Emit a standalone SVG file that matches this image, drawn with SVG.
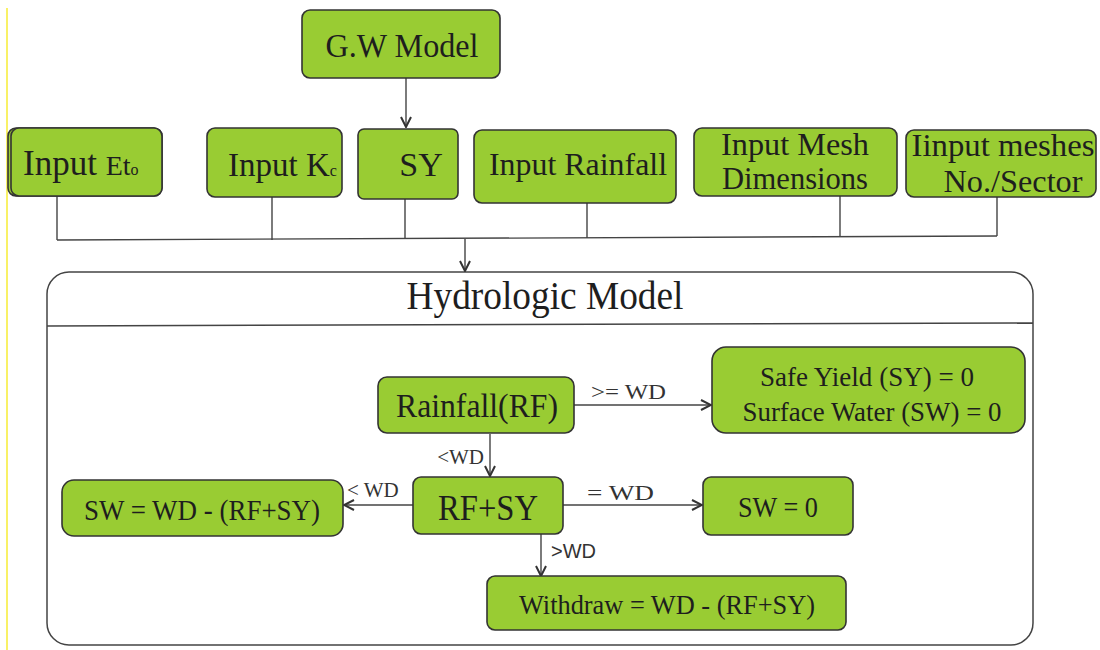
<svg xmlns="http://www.w3.org/2000/svg" width="1100" height="650" viewBox="0 0 1100 650">
  <style>
    .box { fill: #99cc33; stroke: #333333; stroke-width: 1.6; }
    .t { font-family: "Liberation Serif", "Times New Roman", serif; fill: #1e1e1e; }
    .lbl { font-family: "Liberation Serif", "Times New Roman", serif; fill: #333333; font-size: 21px; }
    .c { fill: none; stroke: #444444; stroke-width: 1.4; }
    .cont { fill: #ffffff; stroke: #444444; stroke-width: 1.5; }
  </style>
  <defs>
    <marker id="arr" viewBox="0 0 12 12" refX="11" refY="6" markerWidth="12" markerHeight="12" markerUnits="userSpaceOnUse" orient="auto">
      <path d="M1,1 L11,6 L1,11" fill="none" stroke="#333333" stroke-width="2"/>
    </marker>
  </defs>
  <rect width="1100" height="650" fill="#ffffff"/>
  <line x1="7" y1="8" x2="7" y2="650" stroke="#f5e800" stroke-width="1.2"/>

  <g id="hydrologic-model">
    <rect class="cont" x="47" y="272" width="986" height="373" rx="22"/>
    <line x1="47" y1="326" x2="1033" y2="323" stroke="#444444" stroke-width="1.5"/>
    <text class="t" x="545" y="309" font-size="39" text-anchor="middle" textLength="277" lengthAdjust="spacingAndGlyphs">Hydrologic Model</text>
  </g>

  <g id="connectors">
    <line class="c" x1="406" y1="78" x2="406" y2="127" marker-end="url(#arr)"/>
    <line class="c" x1="57" y1="196" x2="57" y2="240"/>
    <line class="c" x1="272" y1="197" x2="272" y2="240"/>
    <line class="c" x1="405" y1="199" x2="405" y2="239"/>
    <line class="c" x1="587" y1="203" x2="587" y2="238"/>
    <line class="c" x1="840" y1="196" x2="840" y2="237"/>
    <line class="c" x1="997" y1="197" x2="997" y2="236"/>
    <path class="c" d="M57,240 L997,236"/>
    <line class="c" x1="465" y1="239" x2="465" y2="271" marker-end="url(#arr)"/>

    <line class="c" x1="574" y1="405" x2="711" y2="405" marker-end="url(#arr)"/>
    <text class="lbl" x="591" y="399" textLength="75" lengthAdjust="spacingAndGlyphs">&gt;= WD</text>
    <line class="c" x1="490" y1="434" x2="490" y2="476" marker-end="url(#arr)"/>
    <text class="lbl" x="484" y="464" text-anchor="end">&lt;WD</text>
    <line class="c" x1="413" y1="505" x2="344" y2="505" marker-end="url(#arr)"/>
    <text class="lbl" x="347" y="497">&lt; WD</text>
    <line class="c" x1="563" y1="505" x2="702" y2="505" marker-end="url(#arr)"/>
    <text class="lbl" x="587" y="500" font-size="23" textLength="67" lengthAdjust="spacingAndGlyphs">= WD</text>
    <line class="c" x1="541" y1="534" x2="541" y2="576" marker-end="url(#arr)"/>
    <text x="551" y="558" font-family="Liberation Sans, Arial, sans-serif" font-size="20" fill="#333333">&gt;WD</text>
  </g>

  <g id="gw-model">
    <rect class="box" x="302" y="10" width="198" height="68" rx="8"/>
    <text class="t" x="402" y="57" font-size="34" text-anchor="middle" textLength="153" lengthAdjust="spacingAndGlyphs">G.W Model</text>
  </g>

  <g id="input-eto">
    <rect class="box" x="8" y="128" width="154" height="68" rx="8"/>
    <rect class="box" x="11" y="128" width="151" height="68" rx="8"/>
    <text class="t" x="23" y="175" font-size="35">Input <tspan font-size="28">Et</tspan><tspan font-size="16">o</tspan></text>
  </g>

  <g id="input-kc">
    <rect class="box" x="207" y="128" width="135" height="69" rx="8"/>
    <text class="t" x="228" y="176" font-size="33">Input K<tspan font-size="16">c</tspan></text>
  </g>

  <g id="sy">
    <rect class="box" x="358" y="129" width="100" height="70" rx="6"/>
    <text class="t" x="421" y="176" font-size="34" text-anchor="middle">SY</text>
  </g>

  <g id="input-rainfall">
    <rect class="box" x="474" y="130" width="202" height="73" rx="8"/>
    <text class="t" x="578" y="175" font-size="32" text-anchor="middle" textLength="178" lengthAdjust="spacingAndGlyphs">Input Rainfall</text>
  </g>

  <g id="input-mesh-dimensions">
    <rect class="box" x="694" y="128" width="203" height="68" rx="8"/>
    <text class="t" x="795" y="155" font-size="32" text-anchor="middle" textLength="148" lengthAdjust="spacingAndGlyphs">Input Mesh</text>
    <text class="t" x="795" y="189" font-size="32" text-anchor="middle" textLength="146" lengthAdjust="spacingAndGlyphs">Dimensions</text>
  </g>

  <g id="input-meshes-sector">
    <rect class="box" x="906" y="130" width="190" height="67" rx="8"/>
    <text class="t" x="1003" y="156" font-size="32" text-anchor="middle" textLength="183" lengthAdjust="spacingAndGlyphs">Iinput meshes</text>
    <text class="t" x="1013" y="192" font-size="32" text-anchor="middle" textLength="139" lengthAdjust="spacingAndGlyphs">No./Sector</text>
  </g>

  <g id="rainfall-rf">
    <rect class="box" x="378" y="377" width="196" height="56" rx="9"/>
    <text class="t" x="477" y="417" font-size="33" text-anchor="middle" textLength="162" lengthAdjust="spacingAndGlyphs">Rainfall(RF)</text>
  </g>

  <g id="safe-yield">
    <rect class="box" x="712" y="347" width="313" height="86" rx="14"/>
    <text class="t" x="867" y="386" font-size="27" text-anchor="middle" textLength="214" lengthAdjust="spacingAndGlyphs">Safe Yield (SY) = 0</text>
    <text class="t" x="872" y="421" font-size="27" text-anchor="middle" textLength="259" lengthAdjust="spacingAndGlyphs">Surface Water (SW) = 0</text>
  </g>

  <g id="rf-sy">
    <rect class="box" x="413" y="477" width="150" height="57" rx="8"/>
    <text class="t" x="488" y="520" font-size="36" text-anchor="middle" textLength="100" lengthAdjust="spacingAndGlyphs">RF+SY</text>
  </g>

  <g id="sw-formula">
    <rect class="box" x="62" y="480" width="281" height="56" rx="12"/>
    <text class="t" x="202" y="520" font-size="30" text-anchor="middle" textLength="236" lengthAdjust="spacingAndGlyphs">SW = WD - (RF+SY)</text>
  </g>

  <g id="sw-zero">
    <rect class="box" x="703" y="477" width="150" height="58" rx="8"/>
    <text class="t" x="778" y="517" font-size="29" text-anchor="middle" textLength="80" lengthAdjust="spacingAndGlyphs">SW = 0</text>
  </g>

  <g id="withdraw">
    <rect class="box" x="487" y="576" width="359" height="54" rx="8"/>
    <text class="t" x="667" y="614" font-size="28" text-anchor="middle" textLength="296" lengthAdjust="spacingAndGlyphs">Withdraw = WD - (RF+SY)</text>
  </g>
</svg>
